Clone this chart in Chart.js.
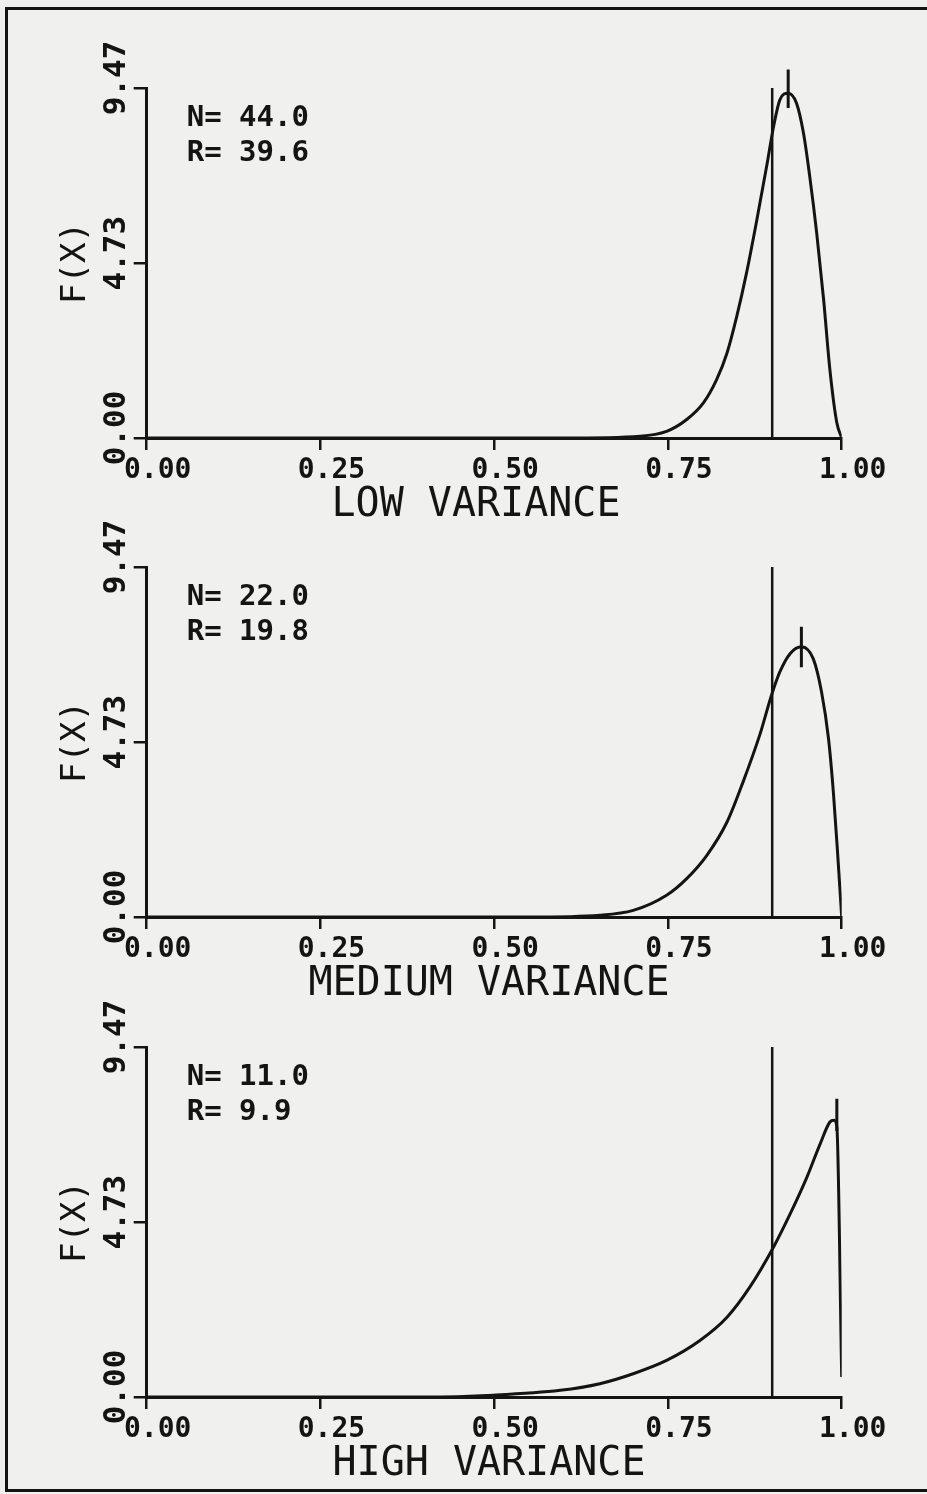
<!DOCTYPE html>
<html>
<head>
<meta charset="utf-8">
<script src="https://cdn.jsdelivr.net/npm/chart.js@4.4.1/dist/chart.umd.min.js"></script>
<style>
html, body { margin: 0; padding: 0; background: #f0f0ee; overflow: hidden; }
#page { position: relative; width: 927px; height: 1494px; overflow: hidden; background: #f0f0ee; }
#frame { position: absolute; left: 5px; top: 7px; width: 922px; height: 1485px; border: 3px solid #141414; border-right: none; box-sizing: border-box; }
canvas { position: absolute; left: 0; }
</style>
</head>
<body>
<div id="page">
  <div id="frame"></div>
  <canvas id="c0" width="927" height="530" style="top:0px"></canvas>
  <canvas id="c1" width="927" height="520" style="top:500px"></canvas>
  <canvas id="c2" width="927" height="514" style="top:980px"></canvas>
</div>
<script>
// ---------------- data ----------------
const xTickValues = [0, 0.25, 0.5, 0.75, 1];
const xTickLabels = ['0.00', '0.25', '0.50', '0.75', '1.00'];
const yTickValues = [0, 4.73, 9.47];
const yTickLabels = ['0.00', '4.73', '9.47'];
const yAxisTitle = 'F(X)';
const panelTitles = ['LOW VARIANCE', 'MEDIUM VARIANCE', 'HIGH VARIANCE'];
const nValues = [44.0, 22.0, 11.0];
const rValues = [39.6, 19.8, 9.9];
const referenceX = 0.9;

const lowX = [0, 0.60, 0.71, 0.748, 0.777, 0.801, 0.820, 0.835, 0.849, 0.863, 0.878, 0.892, 0.902, 0.911, 0.923, 0.935, 0.945, 0.954, 0.964, 0.974, 0.983, 0.993, 1.0];
const lowY = [0, 0, 0.05, 0.18, 0.50, 0.95, 1.58, 2.30, 3.29, 4.46, 5.91, 7.35, 8.43, 9.15, 9.33, 9.06, 8.25, 7.08, 5.55, 3.74, 1.85, 0.41, 0];

const medX = [0, 0.55, 0.652, 0.700, 0.748, 0.777, 0.806, 0.835, 0.858, 0.882, 0.899, 0.911, 0.926, 0.942, 0.959, 0.971, 0.981, 0.988, 0.994, 1.0];
const medY = [0, 0, 0.05, 0.18, 0.59, 1.04, 1.67, 2.57, 3.65, 4.92, 6.00, 6.63, 7.13, 7.31, 6.99, 6.09, 4.83, 3.38, 1.76, 0];

const highX = [0, 0.40, 0.499, 0.595, 0.652, 0.700, 0.748, 0.796, 0.835, 0.868, 0.902, 0.926, 0.950, 0.969, 0.983, 0.989, 0.993, 1.0];
const highY = [0, 0, 0.05, 0.18, 0.36, 0.63, 0.99, 1.53, 2.16, 2.98, 4.06, 4.96, 5.95, 6.85, 7.44, 7.49, 7.32, 0.54];

const peakTickX = [0.923, 0.942, 0.993];
const peakTickTop = [9.97, 7.85, 8.07];
const peakTickBottom = [8.93, 6.76, 7.20];

const curveX = [lowX, medX, highX];
const curveY = [lowY, medY, highY];

// ---------------- layout / style ----------------
const INK = '#141414';
const MONO = '"DejaVu Sans Mono", "Liberation Mono", monospace';
const padTop = [88, 67, 67];
const padBottom = [44, 55, 49];
const titleCenterX = [476, 489, 489];

const panelTextPlugin = {
  id: 'panelText',
  afterDraw(chart, args, opts) {
    const { ctx, chartArea } = chart;
    ctx.save();
    ctx.fillStyle = INK;
    ctx.textAlign = 'left';
    ctx.textBaseline = 'alphabetic';
    ctx.font = 'bold 29px ' + MONO;
    ctx.fillText('N= ' + opts.n.toFixed(1), chartArea.left + 40, chartArea.top + 38);
    ctx.fillText('R= ' + opts.r.toFixed(1), chartArea.left + 40, chartArea.top + 73);
    ctx.font = '40px ' + MONO;
    ctx.textAlign = 'center';
    ctx.fillText(opts.title, opts.titleX, chartArea.bottom + 78);
    ctx.restore();
  }
};

function makePanel(i) {
  const pts = curveX[i].map((x, k) => ({ x: x, y: curveY[i][k] }));
  const ctx = document.getElementById('c' + i).getContext('2d');
  return new Chart(ctx, {
    type: 'scatter',
    data: {
      datasets: [
        {
          data: pts,
          showLine: true,
          borderColor: INK,
          borderWidth: 3,
          pointRadius: 0,
          cubicInterpolationMode: 'monotone',
          fill: false
        },
        {
          data: [{ x: referenceX, y: 0 }, { x: referenceX, y: yTickValues[2] }],
          showLine: true,
          borderColor: INK,
          borderWidth: 2.5,
          pointRadius: 0
        },
        {
          data: [{ x: peakTickX[i], y: peakTickTop[i] }, { x: peakTickX[i], y: peakTickBottom[i] }],
          showLine: true,
          borderColor: INK,
          borderWidth: 3,
          pointRadius: 0,
          clip: false
        }
      ]
    },
    options: {
      responsive: false,
      animation: false,
      devicePixelRatio: 1,
      layout: { padding: { top: padTop[i], bottom: padBottom[i], left: 0, right: 85.3 } },
      plugins: {
        legend: { display: false },
        tooltip: { enabled: false },
        panelText: { n: nValues[i], r: rValues[i], title: panelTitles[i], titleX: titleCenterX[i] }
      },
      scales: {
        x: {
          type: 'linear',
          min: 0,
          max: 1,
          afterBuildTicks: (s) => { s.ticks = xTickValues.map(v => ({ value: v })); },
          afterFit: (s) => { s.height = 48; },
          ticks: {
            callback: (v, idx) => xTickLabels[idx],
            font: { family: MONO, size: 28, weight: 'bold' },
            color: INK,
            padding: 4,
            labelOffset: 11,
            maxRotation: 0,
            autoSkip: false
          },
          grid: { drawOnChartArea: false, drawTicks: true, tickLength: 12, color: INK, lineWidth: 2.5 },
          border: { display: true, color: INK, width: 3 }
        },
        y: {
          type: 'linear',
          min: 0,
          max: yTickValues[2],
          afterBuildTicks: (s) => { s.ticks = yTickValues.map(v => ({ value: v })); },
          afterFit: (s) => { s.width = 146.7; },
          ticks: {
            callback: (v, idx) => yTickLabels[idx],
            font: { family: MONO, size: 31, weight: 'bold' },
            color: INK,
            minRotation: 90,
            maxRotation: 90,
            crossAlign: 'center',
            padding: -21,
            labelOffset: -10,
            autoSkip: false
          },
          title: {
            display: true,
            text: yAxisTitle,
            font: { family: MONO, size: 34, weight: 'normal' },
            color: INK,
            padding: { top: 55.6, bottom: 0 }
          },
          grid: { drawOnChartArea: false, drawTicks: true, tickLength: 13, color: INK, lineWidth: 2.5 },
          border: { display: true, color: INK, width: 3 }
        }
      }
    },
    plugins: [panelTextPlugin]
  });
}

[0, 1, 2].forEach(makePanel);
</script>
</body>
</html>
